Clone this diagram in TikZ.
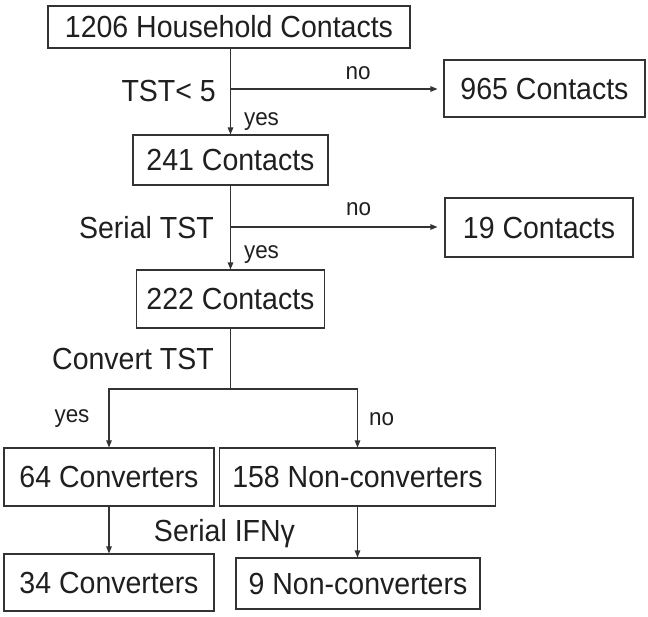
\documentclass[tikz,border=0pt]{standalone}
\usepackage{fontspec}
\setmainfont{Liberation Sans}[FakeStretch=0.935]
\usetikzlibrary{arrows.meta}
\definecolor{tx}{gray}{0.12}
\definecolor{ln}{gray}{0.2}
\newcommand{\fbig}{\fontsize{30.5}{36}\selectfont}
\newcommand{\fsmall}{\fontsize{24}{29}\selectfont}
\tikzset{
 box/.style={draw=ln,line width=1.1pt,inner sep=0pt,rectangle,font=\fbig,text=tx},
 lab/.style={inner sep=0pt,font=\fbig,text=tx,anchor=base east},
 small/.style={inner sep=0pt,font=\fsmall,text=tx,anchor=base},
 conn/.style={draw=ln,line width=1.1pt},
 arr/.style={conn,-{Triangle[length=7pt,width=5.5pt]}}
}
\begin{document}
\begin{tikzpicture}[x=1pt,y=-1pt]
\useasboundingbox[fill=white] (0,0) rectangle (648,616);
% boxes
\node[box,minimum width=362pt,minimum height=42pt] (hh) at (229,27) {1206 Household Contacts};
\node[box,minimum width=201pt,minimum height=57pt] (c965) at (544.5,88.5) {965 Contacts};
\node[box,minimum width=195pt,minimum height=50pt] (c241) at (230.5,160) {241 Contacts};
\node[box,minimum width=188pt,minimum height=59pt] (c19) at (539,227.5) {19 Contacts};
\node[box,minimum width=188pt,minimum height=58pt] (c222) at (230.5,299) {222 Contacts};
\node[box,minimum width=210pt,minimum height=58pt] (cv64) at (109,477) {64 Converters};
\node[box,minimum width=276pt,minimum height=58pt] (nc158) at (357.5,477) {158 Non-converters};
\node[box,minimum width=210pt,minimum height=57pt] (cv34) at (109,582.5) {34 Converters};
\node[box,minimum width=244pt,minimum height=51pt] (nc9) at (358,583.5) {9 Non-converters};
% junction points
\coordinate (b1) at (230.5,89);
\coordinate (b2) at (230.5,227);
\coordinate (j) at (230.5,389);
% connectors
\draw[arr] (hh.south -| c241.north) -- (c241.north);
\draw[arr,shorten >=6pt] (b1) -- (b1 -| c965.west);
\draw[arr] (c241.south) -- (c222.north);
\draw[arr,shorten >=7pt] (b2) -- (b2 -| c19.west);
\draw[conn] (c222.south) -- (j);
\draw[arr] (j) -| (cv64.north);
\draw[arr] (j) -| (nc158.north);
\draw[arr] (cv64.south) -- (cv34.north);
\draw[arr] (nc158.south) -- (nc158.south |- nc9.north);
% labels
\node[lab] (l1) at (216,101) {TST< 5};
\node[small] (n1) at (358,79) {no};
\node[small] (y1) at (261.5,125) {yes};
\node[lab] (l2) at (214,238) {Serial TST};
\node[small] (n2) at (358.5,215) {no};
\node[small] (y2) at (261.5,258) {yes};
\node[lab] (l3) at (214,369) {Convert TST};
\node[small] (y3) at (72,422) {yes};
\node[small] (n3) at (381.5,425) {no};
\node[inner sep=0pt,font=\fbig,text=tx,anchor=base] (l4) at (224.5,541) {Serial IFNγ};
\end{tikzpicture}
\end{document}
